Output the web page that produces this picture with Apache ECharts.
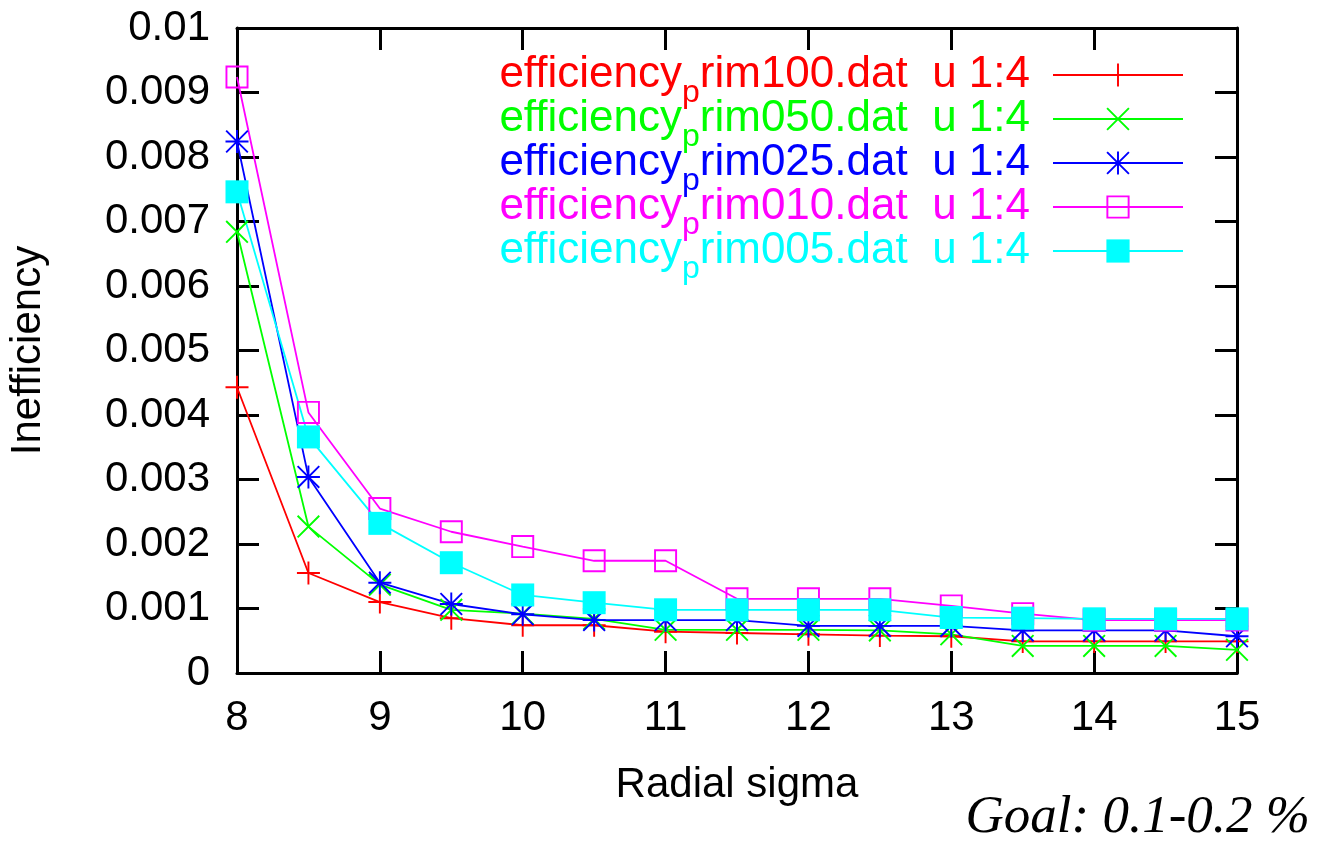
<!DOCTYPE html>
<html>
<head>
<meta charset="utf-8">
<script src="https://cdn.jsdelivr.net/npm/echarts/dist/echarts.min.js"></script>
<style>
  html, body { margin: 0; padding: 0; background: #fff; }
  #chart { width: 1328px; height: 841px; }
</style>
</head>
<body>
<div id="chart"></div>
<script>
// radial sigma values on the x axis
var sigma = [8, 8.5, 9, 9.5, 10, 10.5, 11, 11.5, 12, 12.5, 13, 13.5, 14, 14.5, 15];

// inefficiency per rim file
var prim100 = [0.00443, 0.00155, 0.00110, 0.00085, 0.00074, 0.00074, 0.00064, 0.00062, 0.00060, 0.00058, 0.00057, 0.00049, 0.00049, 0.00049, 0.00049];
var prim050 = [0.00684, 0.00227, 0.00137, 0.00098, 0.00092, 0.00084, 0.00067, 0.00067, 0.00067, 0.00066, 0.00060, 0.00042, 0.00042, 0.00042, 0.00036];
var prim025 = [0.00824, 0.00304, 0.00140, 0.00107, 0.00091, 0.00082, 0.00082, 0.00082, 0.00073, 0.00073, 0.00073, 0.00066, 0.00066, 0.00066, 0.00057];
var prim010 = [0.00924, 0.00404, 0.00255, 0.00219, 0.00196, 0.00174, 0.00174, 0.00115, 0.00115, 0.00115, 0.00104, 0.00092, 0.00082, 0.00082, 0.00082];
var prim005 = [0.00746, 0.00366, 0.00232, 0.00171, 0.00121, 0.00109, 0.00098, 0.00098, 0.00098, 0.00098, 0.00086, 0.00085, 0.00084, 0.00084, 0.00084];

var names = [
  'efficiency_prim100.dat  u 1:4',
  'efficiency_prim050.dat  u 1:4',
  'efficiency_prim025.dat  u 1:4',
  'efficiency_prim010.dat  u 1:4',
  'efficiency_prim005.dat  u 1:4'
];
var values = [prim100, prim050, prim025, prim010, prim005];
var colors = ['#ff0000', '#00ff00', '#0000ff', '#ff00ff', '#00ffff'];

// gnuplot point types: plus, cross, star, open box, filled box
var symbols = [
  'path://M11,0H13V24H11ZM0,11H24V13H0Z',
  'path://M0,1.4L1.4,0L24,22.6L22.6,24ZM22.6,0L24,1.4L1.4,24L0,22.6Z',
  'path://M11,0H13V24H11ZM0,11H24V13H0ZM0,1.4L1.4,0L24,22.6L22.6,24ZM22.6,0L24,1.4L1.4,24L0,22.6Z',
  'path://M0,0H24V24H0ZM2,2V22H22V2Z',
  'rect'
];

var font = 'Liberation Sans, Arial, Helvetica, sans-serif';

var chart = echarts.init(document.getElementById('chart'));

var series = names.map(function (n, i) {
  return {
    name: n,
    type: 'line',
    xAxisIndex: 0,
    yAxisIndex: 0,
    data: sigma.map(function (x, j) { return [x, values[i][j]]; }),
    symbol: symbols[i],
    symbolSize: 23,
    showSymbol: true,
    clip: false,
    lineStyle: { color: colors[i], width: 1.8 },
    itemStyle: { color: colors[i], borderWidth: 0 },
    emphasis: { disabled: true }
  };
});

function legendRich(c) {
  return {
    a: { color: c, fontSize: 44, fontFamily: font, lineHeight: 44, verticalAlign: 'top' },
    s: { color: c, fontSize: 32, fontFamily: font, lineHeight: 32, verticalAlign: 'top', padding: [24, 0, 0, 0] },
    b: { color: c, fontSize: 44, fontFamily: font, lineHeight: 44, verticalAlign: 'top', padding: [0, 18, 0, 0] }
  };
}

var tickStyle = { show: true, inside: true, length: 22, lineStyle: { color: '#000', width: 3 } };
var lineBorder = { show: true, onZero: false, lineStyle: { color: '#000', width: 3 } };

var option = {
  animation: false,
  backgroundColor: '#fff',
  grid: { left: 237, right: 91, top: 28, bottom: 168, outerBoundsMode: 'none', containLabel: false },
  legend: {
    orient: 'vertical',
    right: 139,
    top: 48,
    align: 'right',
    itemWidth: 130,
    itemHeight: 29,
    itemGap: -12,
    selectedMode: false,
    data: names.map(function (n, i) {
      return { name: n, textStyle: { color: colors[i], rich: legendRich(colors[i]) } };
    }),
    formatter: function (name) {
      var parts = name.split('_');
      return '{a|' + parts[0] + '}{s|' + parts[1].charAt(0) + '}{b|' + parts[1].slice(1) + '}';
    }
  },
  xAxis: [
    {
      type: 'value', position: 'bottom', min: 8, max: 15, interval: 1,
      name: 'Radial sigma', nameLocation: 'middle', nameGap: 91,
      nameTextStyle: { color: '#000', fontSize: 42, fontFamily: font },
      axisLine: lineBorder, axisTick: tickStyle, splitLine: { show: false },
      axisLabel: { color: '#000', fontSize: 42, fontFamily: font, margin: 24 }
    },
    {
      type: 'value', position: 'top', min: 8, max: 15, interval: 1,
      axisLine: lineBorder, axisTick: tickStyle, splitLine: { show: false },
      axisLabel: { show: false }
    }
  ],
  yAxis: [
    {
      type: 'value', position: 'left', min: 0, max: 0.01, interval: 0.001,
      name: 'Inefficiency', nameLocation: 'middle', nameGap: 188,
      nameTextStyle: { color: '#000', fontSize: 42, fontFamily: font },
      axisLine: lineBorder, axisTick: tickStyle, splitLine: { show: false },
      axisLabel: {
        color: '#000', fontSize: 42, fontFamily: font, margin: 27,
        formatter: function (v) { return v === 0 ? '0' : String(+v.toFixed(3)); }
      }
    },
    {
      type: 'value', position: 'right', min: 0, max: 0.01, interval: 0.001,
      axisLine: lineBorder, axisTick: tickStyle, splitLine: { show: false },
      axisLabel: { show: false }
    }
  ],
  graphic: [
    {
      type: 'text', right: 18, bottom: -4,
      style: {
        text: 'Goal: 0.1-0.2 %',
        fill: '#000',
        font: 'italic 53px "Liberation Serif", "Times New Roman", serif'
      }
    }
  ],
  series: series
};

chart.setOption(option);
</script>
</body>
</html>
